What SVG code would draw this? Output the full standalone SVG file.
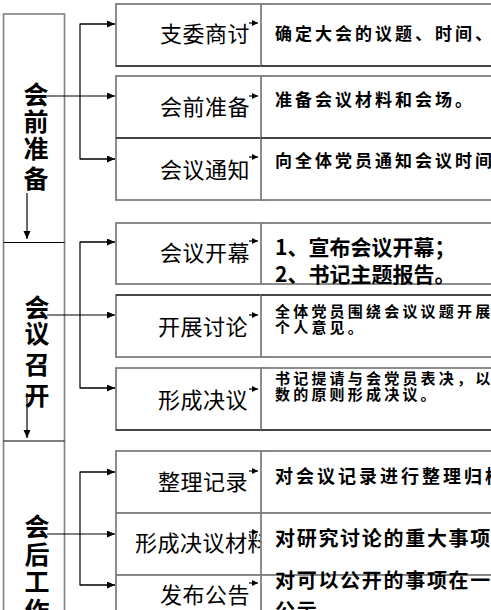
<svg xmlns="http://www.w3.org/2000/svg" width="491" height="610" viewBox="0 0 491 610">
<style>
.bg{fill:#fff}
.box{fill:#fff;stroke:#808080;stroke-width:1.8}
.bot{stroke:#000;stroke-width:1.2}
.col{fill:#fff;stroke:#808080;stroke-width:1.6}
.div{stroke:#000;stroke-width:1.2}
.ln{stroke:#000;stroke-width:1.2;fill:none}
.lbl{font-family:"Noto Sans CJK SC",sans-serif;font-size:22px;letter-spacing:0.5px;fill:#000}
.ph{font-family:"Noto Sans CJK SC",sans-serif;font-size:25px;font-weight:bold;fill:#000;text-anchor:middle}
.d17{font-family:"Noto Sans CJK SC",sans-serif;font-size:17px;font-weight:bold;letter-spacing:3px;fill:#000}
.d21{font-family:"Noto Sans CJK SC",sans-serif;font-size:21px;font-weight:bold;fill:#000}
.d15{font-family:"Noto Sans CJK SC",sans-serif;font-size:15px;font-weight:bold;letter-spacing:3.2px;fill:#000}
.d18{font-family:"Noto Sans CJK SC",sans-serif;font-size:18px;font-weight:bold;letter-spacing:3px;fill:#000}
.d20{font-family:"Noto Sans CJK SC",sans-serif;font-size:20px;font-weight:bold;letter-spacing:1.7px;fill:#000}
</style>
<defs>
<marker id="ah" markerUnits="userSpaceOnUse" markerWidth="9" markerHeight="8" refX="8" refY="3.5" orient="auto">
<path d="M0,0 L8,3.5 L0,7 z" fill="#000"/>
</marker>
<marker id="ahs" markerUnits="userSpaceOnUse" markerWidth="7" markerHeight="7" refX="6" refY="3" orient="auto">
<path d="M0,0 L6,3 L0,6 z" fill="#000"/>
</marker>
</defs>
<rect class="bg" x="0" y="0" width="491" height="610"/>

<!-- left phase column -->
<g id="phase-column">
<rect class="col" x="3.5" y="14" width="61" height="610"/>
<line class="div" x1="3.5" y1="242.5" x2="64.5" y2="242.5"/>
<line class="div" x1="3.5" y1="441" x2="64.5" y2="441"/>
</g>
<g id="phase-1">
<text class="ph"><tspan x="36" y="104">会</tspan><tspan x="36" y="131">前</tspan><tspan x="36" y="158">准</tspan><tspan x="36" y="188">备</tspan></text>
</g>
<g id="phase-2">
<text class="ph"><tspan x="37" y="317">会</tspan><tspan x="37" y="343">议</tspan><tspan x="37" y="374">召</tspan><tspan x="37" y="405">开</tspan></text>
</g>
<g id="phase-3">
<text class="ph"><tspan x="37" y="536">会</tspan><tspan x="37" y="564">后</tspan><tspan x="37" y="591">工</tspan><tspan x="37" y="620">作</tspan></text>
</g>

<!-- middle step boxes -->
<g id="step-1"><rect class="box" x="116" y="4" width="150" height="62"/><line class="bot" x1="116" y1="66" x2="266" y2="66"/><text class="lbl" x="160" y="41.5">支委商讨</text></g>
<g id="step-2"><rect class="box" x="116" y="76" width="150" height="62"/><text class="lbl" x="160" y="115">会前准备</text></g>
<g id="step-3"><rect class="box" x="116" y="138" width="150" height="62"/><line class="bot" x1="116" y1="138" x2="266" y2="138"/><text class="lbl" x="160" y="178">会议通知</text></g>
<g id="step-4"><rect class="box" x="116" y="223" width="150" height="61"/><text class="lbl" x="160" y="261">会议开幕</text></g>
<g id="step-5"><rect class="box" x="116" y="295" width="150" height="62"/><line class="bot" x1="116" y1="295" x2="266" y2="295"/><text class="lbl" x="158" y="335">开展讨论</text></g>
<g id="step-6"><rect class="box" x="116" y="368" width="150" height="62"/><line class="bot" x1="116" y1="430" x2="266" y2="430"/><text class="lbl" x="158" y="408">形成决议</text></g>
<g id="step-7"><rect class="box" x="116" y="451" width="150" height="62"/><text class="lbl" x="158" y="490">整理记录</text></g>
<g id="step-8"><rect class="box" x="116" y="513" width="150" height="62"/><text class="lbl" x="135" y="551">形成决议材料</text></g>
<g id="step-9"><rect class="box" x="116" y="575" width="150" height="60"/><text class="lbl" x="160" y="603">发布公告</text></g>

<!-- right description boxes -->
<g id="desc-1"><rect class="box" x="261" y="4" width="240" height="62"/><line class="bot" x1="261" y1="66" x2="495" y2="66"/><text class="d17" x="275" y="40">确定大会的议题、时间、</text></g>
<g id="desc-2"><rect class="box" x="261" y="76" width="240" height="62"/><text class="d17" x="275" y="105.5">准备会议材料和会场。</text></g>
<g id="desc-3"><rect class="box" x="261" y="138" width="240" height="62"/><line class="bot" x1="261" y1="138" x2="495" y2="138"/><text class="d17" x="275" y="167">向全体党员通知会议时间</text></g>
<g id="desc-4"><rect class="box" x="261" y="223" width="240" height="61"/><text class="d21"><tspan x="275" y="255">1、宣布会议开幕；</tspan><tspan x="275" y="282">2、书记主题报告。</tspan></text></g>
<g id="desc-5"><rect class="box" x="261" y="295" width="240" height="62"/><line class="bot" x1="261" y1="295" x2="495" y2="295"/><text class="d15"><tspan x="275" y="317">全体党员围绕会议议题开展</tspan><tspan x="275" y="333">个人意见。</tspan></text></g>
<g id="desc-6"><rect class="box" x="261" y="368" width="240" height="62"/><line class="bot" x1="261" y1="430" x2="495" y2="430"/><text class="d15"><tspan x="275" y="384">书记提请与会党员表决，以</tspan><tspan x="275" y="400">数的原则形成决议。</tspan></text></g>
<g id="desc-7"><rect class="box" x="261" y="451" width="240" height="62"/><text class="d18" x="275" y="483">对会议记录进行整理归档</text></g>
<g id="desc-8"><rect class="box" x="261" y="513" width="240" height="62"/><text class="d20" x="275" y="546">对研究讨论的重大事项</text></g>
<g id="desc-9"><rect class="box" x="261" y="575" width="240" height="60"/><text class="d20"><tspan x="275" y="588">对可以公开的事项在一</tspan><tspan x="275" y="618">公示</tspan></text></g>

<!-- connectors -->
<g id="connectors">
<polyline class="ln" points="115,24 80,24 80,159 115,159"/>
<line class="ln" x1="80" y1="24" x2="115" y2="24" marker-end="url(#ah)"/>
<line class="ln" x1="80" y1="159" x2="115" y2="159" marker-end="url(#ah)"/>
<line class="ln" x1="47" y1="96" x2="115" y2="96" marker-end="url(#ah)"/>
<line class="ln" x1="27" y1="193" x2="27" y2="239" marker-end="url(#ah)"/>

<polyline class="ln" points="115,242 80,242 80,388 115,388"/>
<line class="ln" x1="80" y1="242" x2="115" y2="242" marker-end="url(#ah)"/>
<line class="ln" x1="80" y1="388" x2="115" y2="388" marker-end="url(#ah)"/>
<line class="ln" x1="47" y1="315" x2="115" y2="315" marker-end="url(#ah)"/>
<line class="ln" x1="27" y1="393" x2="27" y2="438" marker-end="url(#ah)"/>

<polyline class="ln" points="115,472 80,472 80,585 115,585"/>
<line class="ln" x1="80" y1="472" x2="115" y2="472" marker-end="url(#ah)"/>
<line class="ln" x1="80" y1="585" x2="115" y2="585" marker-end="url(#ah)"/>
<line class="ln" x1="47" y1="534" x2="115" y2="534" marker-end="url(#ah)"/>

<line class="ln" x1="249" y1="23" x2="258" y2="23" marker-end="url(#ahs)"/>
<line class="ln" x1="249" y1="96" x2="258" y2="96" marker-end="url(#ahs)"/>
<line class="ln" x1="249" y1="157" x2="258" y2="157" marker-end="url(#ahs)"/>
<line class="ln" x1="249" y1="241" x2="258" y2="241" marker-end="url(#ahs)"/>
<line class="ln" x1="249" y1="315" x2="258" y2="315" marker-end="url(#ahs)"/>
<line class="ln" x1="249" y1="389" x2="258" y2="389" marker-end="url(#ahs)"/>
<line class="ln" x1="249" y1="471" x2="258" y2="471" marker-end="url(#ahs)"/>
<line class="ln" x1="249" y1="532" x2="258" y2="532" marker-end="url(#ahs)"/>
<line class="ln" x1="249" y1="583" x2="258" y2="583" marker-end="url(#ahs)"/>
</g>
</svg>
